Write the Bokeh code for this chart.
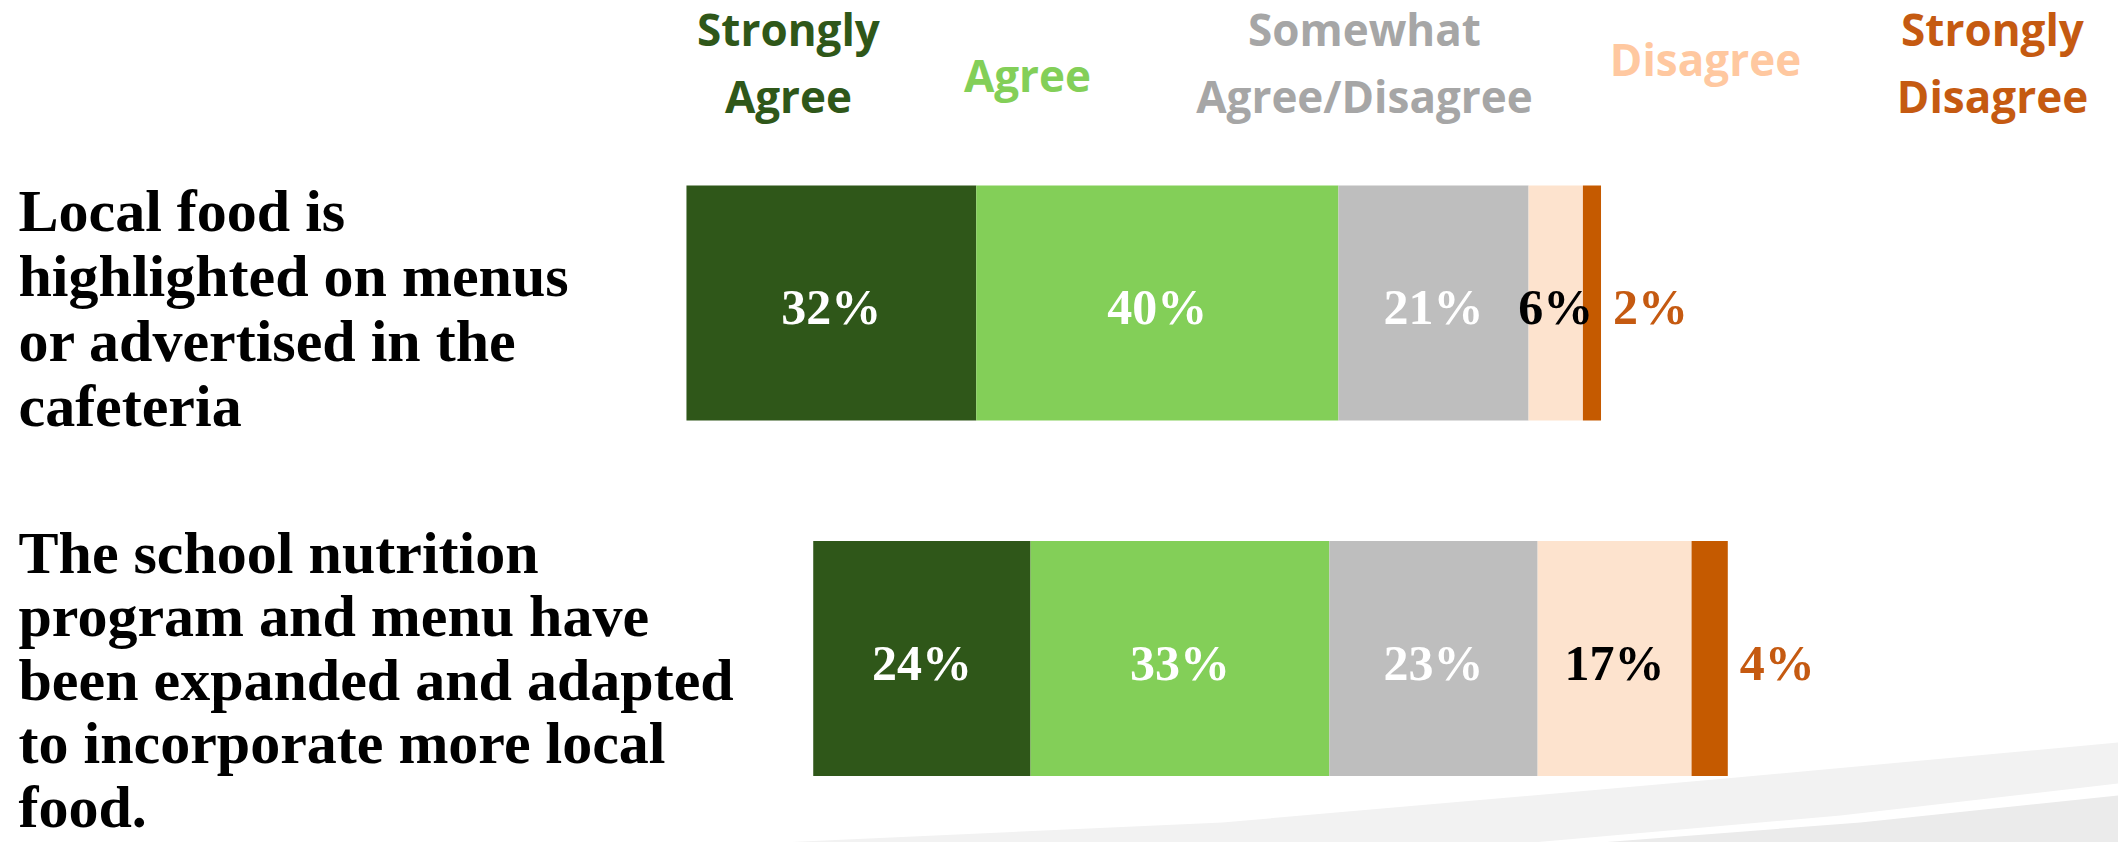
from bokeh.plotting import figure
from bokeh.models import Range1d, ColumnDataSource
from bokeh.core.properties import value
from bokeh.embed import file_html
from bokeh.resources import INLINE

# ---------------- data ----------------
questions = [
    "Local food is\nhighlighted on menus\nor advertised in the\ncafeteria",
    "The school nutrition\nprogram and menu have\nbeen expanded and adapted\nto incorporate more local\nfood.",
]
categories = ["Strongly Agree", "Agree", "Somewhat Agree/Disagree", "Disagree", "Strongly Disagree"]
header_labels = ["Strongly\nAgree", "Agree", "Somewhat\nAgree/Disagree", "Disagree", "Strongly\nDisagree"]
strongly_agree = [32, 24]
agree = [40, 33]
somewhat = [21, 23]
disagree = [6, 17]
strongly_disagree = [2, 4]

# ---------------- style / layout ----------------
bar_colors = ["#2F5719", "#83CF58", "#BEBEBE", "#FDE3CE", "#C55A00"]
header_colors = ["#2F5719", "#83CF58", "#A6A6A6", "#FFC8A0", "#C55A11"]
pct_colors = ["white", "white", "white", "black", "#C55A11"]

W, H = 2118, 842
CX = 1433.0     # pixel position of the neutral midpoint (0)
SX = 9.055      # pixels per percentage point
R0 = 302.5      # pixel (from top) of first row centre
SY = 355.5      # pixels between rows
BAR_H = 235 / SY

def px_x(px):
    return (px - CX) / SX

def px_y(py):
    return (py - R0) / SY

p = figure(width=W, height=H, output_backend="svg", toolbar_location=None,
           x_range=Range1d(px_x(0), px_x(W)), y_range=Range1d(px_y(H), px_y(0)),
           x_axis_location=None, y_axis_location=None, min_border=0,
           background_fill_color="white", border_fill_color="white")
p.grid.visible = False
p.outline_line_color = None

# decorative swoosh (bottom right)
up_top = [(780, 842), (1222, 822), (1725, 778), (2118, 742)]
up_bot = [(2118, 783), (1840, 815), (1532, 842)]
pts = up_top + up_bot
p.patch([px_x(a) for a, b in pts], [px_y(b) for a, b in pts], fill_color="#F2F2F2", line_color=None)
lo = [(1600, 842), (1860, 822), (2118, 795), (2118, 842)]
p.patch([px_x(a) for a, b in lo], [px_y(b) for a, b in lo], fill_color="#EBEBEB", line_color=None)

# ---------------- bars ----------------
series = [strongly_agree, agree, somewhat, disagree, strongly_disagree]
rows = list(range(len(questions)))
starts = [-(strongly_agree[i] + agree[i] + somewhat[i] / 2.0) for i in rows]

lab_x, lab_y, lab_t, lab_c, lab_align, lab_off = [], [], [], [], [], []
cum = list(starts)
for k, vals in enumerate(series):
    lefts = [cum[i] for i in rows]
    rights = [cum[i] + vals[i] for i in rows]
    p.hbar(y=rows, left=lefts, right=rights, height=BAR_H,
           fill_color=bar_colors[k], line_color=None)
    for i in rows:
        if k < 4:
            lab_x.append((lefts[i] + rights[i]) / 2.0)
            lab_align.append("center")
            lab_off.append(0)
        else:
            lab_x.append(rights[i])
            lab_align.append("left")
            lab_off.append(12)
        lab_y.append(rows[i])
        lab_t.append(f"{vals[i]}%")
        lab_c.append(pct_colors[k])
    cum = rights

src = ColumnDataSource(dict(x=lab_x, y=lab_y, t=lab_t, c=lab_c, a=lab_align, o=lab_off))
p.text(x="x", y="y", text="t", source=src, text_color="c", text_align="a", x_offset="o",
       y_offset=4, text_baseline="middle", text_font=value("Liberation Serif"),
       text_font_style="bold", text_font_size="50px")

# ---------------- question labels ----------------
first_px = [210.0, 552.0]
line_px = [65.0, 63.5]
qx, qy, qt = [], [], []
for i, q in enumerate(questions):
    for j, line in enumerate(q.split("\n")):
        qx.append(px_x(18))
        qy.append(px_y(first_px[i] + j * line_px[i]))
        qt.append(line)
p.text(x=qx, y=qy, text=qt, text_align="left", text_baseline="middle",
       text_font=value("Liberation Serif"), text_font_style="bold",
       text_font_size="60px", text_color="black")

# ---------------- header labels ----------------
header_px = [788, 1027, 1364, 1705, 1992]
two_line_mid = [28, 95.5]
single_mid = [None, 74, None, 58, None]
hx, hy, ht, hc = [], [], [], []
for k, lab in enumerate(header_labels):
    lines = lab.split("\n")
    ys = two_line_mid if len(lines) == 2 else [single_mid[k]]
    for line, yy in zip(lines, ys):
        hx.append(px_x(header_px[k]))
        hy.append(px_y(yy))
        ht.append(line)
        hc.append(header_colors[k])
p.text(x=hx, y=hy, text=ht, text_color=hc, text_align="center", text_baseline="middle",
       text_font=value("Open Sans"), text_font_style="bold", text_font_size="44px")

open("out.html", "w").write(file_html(p, INLINE))
